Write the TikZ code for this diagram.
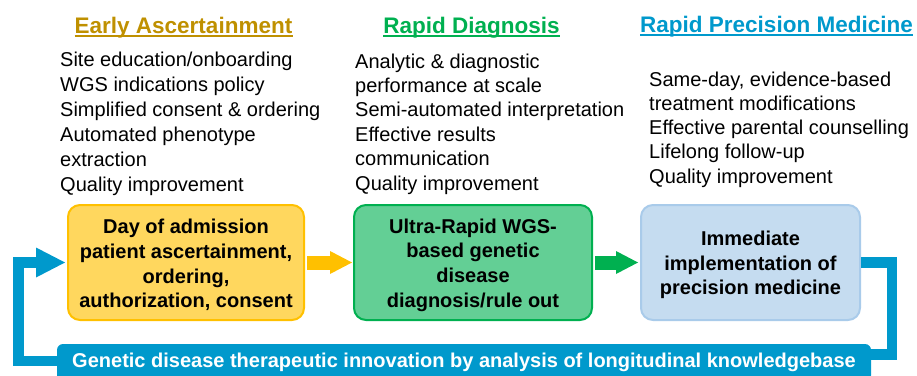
\documentclass[tikz,border=0pt]{standalone}
\usepackage{fontspec}
\setmainfont{Liberation Sans}
\usetikzlibrary{arrows.meta}
\definecolor{hdgold}{HTML}{BF9000}
\definecolor{hdgreen}{HTML}{00B050}
\definecolor{loopblue}{HTML}{0099CC}
\definecolor{ylwfill}{HTML}{FFD75E}
\definecolor{ylwedge}{HTML}{FFC000}
\definecolor{grnfill}{HTML}{63CF95}
\definecolor{grnedge}{HTML}{00B050}
\definecolor{bluefill}{HTML}{C5DCF0}
\definecolor{blueedge}{HTML}{A9CBEA}
\begin{document}
\begin{tikzpicture}[x=1pt,y=-1pt,
  heading/.style={font=\fontsize{22.5}{27}\selectfont\bfseries, anchor=base, inner sep=0pt},
  headline/.style={line width=2.2pt},
  body/.style={font=\fontsize{20}{#1}\selectfont, align=left, anchor=base west, inner sep=0pt},
  stage/.style={rounded corners=12pt, line width=2pt, minimum height=115pt, inner sep=0pt},
  stagetext/.style={font=\fontsize{20}{#1}\selectfont\bfseries, align=center, inner sep=0pt},
  flow/.style={line width=14pt, -{Triangle[length=22pt,width=23pt,line width=0pt]}},
  feedback/.style={draw=loopblue, line width=10.5pt},
  banner/.style={fill=loopblue, rounded corners=6pt, minimum width=814pt, minimum height=37.6pt,
    inner sep=0pt, text=white, font=\fontsize{20}{24}\selectfont\bfseries}]
\useasboundingbox (0,0) rectangle (917,375);
\clip (0,0) rectangle (917,375);

% stage headings
\node[heading, text=hdgold] (h1) at (183.5,33) {Early Ascertainment};
\node[heading, text=hdgreen] (h2) at (471.5,33) {Rapid Diagnosis};
\node[heading, text=loopblue] (h3) at (776.5,32) {Rapid Precision Medicine};
\draw[headline, hdgold] ([yshift=-3pt]h1.base west) -- ([yshift=-3pt]h1.base east);
\draw[headline, hdgreen] ([yshift=-3pt]h2.base west) -- ([yshift=-3pt]h2.base east);
\draw[headline, loopblue] ([yshift=-3pt]h3.base west) -- ([yshift=-3pt]h3.base east);

% lists of activities per stage (placed by the baseline of their last line)
\node[body=25] (l1) at (60,191) {Site education/onboarding\\WGS indications policy\\Simplified consent \& ordering\\Automated phenotype\\extraction\\Quality improvement};
\node[body=24.4] (l2) at (355,190) {Analytic \& diagnostic\\performance at scale\\Semi-automated interpretation\\Effective results\\communication\\Quality improvement};
\node[body=24.3] (l3) at (649,183.2) {Same-day, evidence-based\\treatment modifications\\Effective parental counselling\\Lifelong follow-up\\Quality improvement};

% stage boxes
\node[stage, fill=ylwfill, draw=ylwedge, minimum width=236pt] (adm) at (186,262.5) {};
\node[stage, fill=grnfill, draw=grnedge, minimum width=238pt] (dx) at (473,262.5) {};
\node[stage, fill=bluefill, draw=blueedge, minimum width=219pt] (pm) at (750.5,262.5) {};
\node[stagetext=24.6] (admtext) at ([yshift=-2.5pt]adm.center)
  {Day of admission\\patient ascertainment,\\ordering,\\authorization, consent};
\node[stagetext=24.6] (dxtext) at ([yshift=-2.5pt]dx.center)
  {Ultra-Rapid WGS-\\based genetic\\disease\\diagnosis/rule out};
\node[stagetext=24.5] (pmtext) at ([yshift=-2.5pt]pm.center)
  {Immediate\\implementation of\\precision medicine};

% forward arrows
\draw[flow, ylwedge] ([xshift=2pt]adm.east) -- ([xshift=-1pt]dx.west);
\draw[flow, grnedge] ([xshift=2pt]dx.east) -- ([xshift=-2pt]pm.west);

% knowledgebase banner
\node[banner] (kb) at (464,362.8) {Genetic disease therapeutic innovation by analysis of longitudinal knowledgebase};

% feedback loop
\coordinate (r1) at (892,354.7);
\coordinate (q1) at (18.5,361);
\draw[feedback] (pm.east) -| (r1) -- (r1 -| kb.east);
\draw[feedback, -{Triangle[length=29pt,width=30pt,line width=0pt]}, loopblue]
  (q1 -| kb.west) -- (q1) |- ([xshift=-2pt]adm.west);
\end{tikzpicture}
\end{document}
